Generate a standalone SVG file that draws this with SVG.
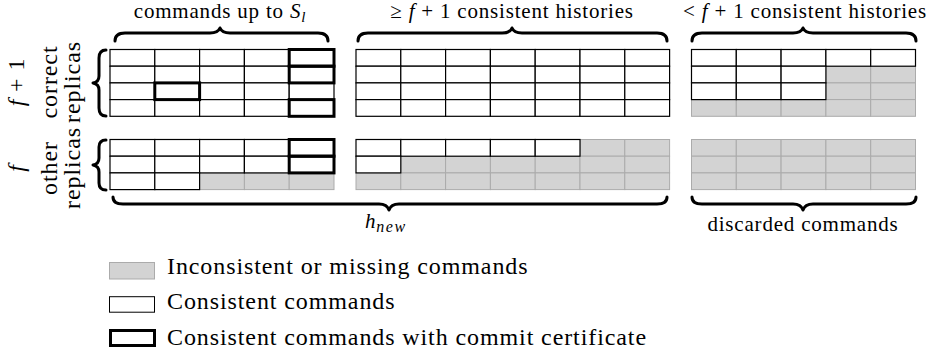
<svg xmlns="http://www.w3.org/2000/svg" width="929" height="351" viewBox="0 0 929 351">
<style>
.g{fill:#d3d3d3;stroke:#ababab;stroke-width:1}
.w{fill:#fff;stroke:#000;stroke-width:1.2}
.k{fill:none;stroke:#000;stroke-width:3}
.br{fill:none;stroke:#000;stroke-width:3;stroke-linecap:round;stroke-linejoin:round}
text{font-family:"Liberation Serif","Times New Roman",serif;fill:#000}
.lab{font-size:21px;letter-spacing:0.8px}
.side{font-size:24px;letter-spacing:0.9px;text-anchor:middle}
.leg{font-size:24px;letter-spacing:0.9px}
</style>
<rect width="929" height="351" fill="#fff"/>

<g id="grid-correct-prefix">
<rect class="w" x="110" y="49.5" width="44.8" height="16.7"/><rect class="w" x="154.8" y="49.5" width="44.8" height="16.7"/><rect class="w" x="199.6" y="49.5" width="44.8" height="16.7"/><rect class="w" x="244.4" y="49.5" width="44.8" height="16.7"/><rect class="w" x="289.2" y="49.5" width="44.8" height="16.7"/>
<rect class="w" x="110" y="66.2" width="44.8" height="16.7"/><rect class="w" x="154.8" y="66.2" width="44.8" height="16.7"/><rect class="w" x="199.6" y="66.2" width="44.8" height="16.7"/><rect class="w" x="244.4" y="66.2" width="44.8" height="16.7"/><rect class="w" x="289.2" y="66.2" width="44.8" height="16.7"/>
<rect class="w" x="110" y="82.9" width="44.8" height="16.7"/><rect class="w" x="154.8" y="82.9" width="44.8" height="16.7"/><rect class="w" x="199.6" y="82.9" width="44.8" height="16.7"/><rect class="w" x="244.4" y="82.9" width="44.8" height="16.7"/><rect class="w" x="289.2" y="82.9" width="44.8" height="16.7"/>
<rect class="w" x="110" y="99.6" width="44.8" height="16.7"/><rect class="w" x="154.8" y="99.6" width="44.8" height="16.7"/><rect class="w" x="199.6" y="99.6" width="44.8" height="16.7"/><rect class="w" x="244.4" y="99.6" width="44.8" height="16.7"/><rect class="w" x="289.2" y="99.6" width="44.8" height="16.7"/>
<rect class="k" x="289.2" y="49.5" width="44.8" height="16.7"/><rect class="k" x="289.2" y="66.2" width="44.8" height="16.7"/><rect class="k" x="289.2" y="99.6" width="44.8" height="16.7"/><rect class="k" x="154.8" y="82.9" width="44.8" height="16.7"/>
</g>

<g id="grid-correct-consistent">
<rect class="w" x="356" y="49.5" width="44.8" height="16.7"/><rect class="w" x="400.8" y="49.5" width="44.8" height="16.7"/><rect class="w" x="445.6" y="49.5" width="44.8" height="16.7"/><rect class="w" x="490.4" y="49.5" width="44.8" height="16.7"/><rect class="w" x="535.2" y="49.5" width="44.8" height="16.7"/><rect class="w" x="580" y="49.5" width="44.8" height="16.7"/><rect class="w" x="624.8" y="49.5" width="44.8" height="16.7"/>
<rect class="w" x="356" y="66.2" width="44.8" height="16.7"/><rect class="w" x="400.8" y="66.2" width="44.8" height="16.7"/><rect class="w" x="445.6" y="66.2" width="44.8" height="16.7"/><rect class="w" x="490.4" y="66.2" width="44.8" height="16.7"/><rect class="w" x="535.2" y="66.2" width="44.8" height="16.7"/><rect class="w" x="580" y="66.2" width="44.8" height="16.7"/><rect class="w" x="624.8" y="66.2" width="44.8" height="16.7"/>
<rect class="w" x="356" y="82.9" width="44.8" height="16.7"/><rect class="w" x="400.8" y="82.9" width="44.8" height="16.7"/><rect class="w" x="445.6" y="82.9" width="44.8" height="16.7"/><rect class="w" x="490.4" y="82.9" width="44.8" height="16.7"/><rect class="w" x="535.2" y="82.9" width="44.8" height="16.7"/><rect class="w" x="580" y="82.9" width="44.8" height="16.7"/><rect class="w" x="624.8" y="82.9" width="44.8" height="16.7"/>
<rect class="w" x="356" y="99.6" width="44.8" height="16.7"/><rect class="w" x="400.8" y="99.6" width="44.8" height="16.7"/><rect class="w" x="445.6" y="99.6" width="44.8" height="16.7"/><rect class="w" x="490.4" y="99.6" width="44.8" height="16.7"/><rect class="w" x="535.2" y="99.6" width="44.8" height="16.7"/><rect class="w" x="580" y="99.6" width="44.8" height="16.7"/><rect class="w" x="624.8" y="99.6" width="44.8" height="16.7"/>
</g>

<g id="grid-correct-discarded">
<rect class="g" x="825.9" y="66.2" width="44.8" height="16.7"/><rect class="g" x="870.7" y="66.2" width="44.8" height="16.7"/>
<rect class="g" x="825.9" y="82.9" width="44.8" height="16.7"/><rect class="g" x="870.7" y="82.9" width="44.8" height="16.7"/>
<rect class="g" x="691.5" y="99.6" width="44.8" height="16.7"/><rect class="g" x="736.3" y="99.6" width="44.8" height="16.7"/><rect class="g" x="781.1" y="99.6" width="44.8" height="16.7"/><rect class="g" x="825.9" y="99.6" width="44.8" height="16.7"/><rect class="g" x="870.7" y="99.6" width="44.8" height="16.7"/>
<rect class="w" x="691.5" y="49.5" width="44.8" height="16.7"/><rect class="w" x="736.3" y="49.5" width="44.8" height="16.7"/><rect class="w" x="781.1" y="49.5" width="44.8" height="16.7"/><rect class="w" x="825.9" y="49.5" width="44.8" height="16.7"/><rect class="w" x="870.7" y="49.5" width="44.8" height="16.7"/>
<rect class="w" x="691.5" y="66.2" width="44.8" height="16.7"/><rect class="w" x="736.3" y="66.2" width="44.8" height="16.7"/><rect class="w" x="781.1" y="66.2" width="44.8" height="16.7"/>
<rect class="w" x="691.5" y="82.9" width="44.8" height="16.7"/><rect class="w" x="736.3" y="82.9" width="44.8" height="16.7"/><rect class="w" x="781.1" y="82.9" width="44.8" height="16.7"/>
</g>

<g id="grid-other-prefix">
<rect class="g" x="199.6" y="172.9" width="44.8" height="16.7"/><rect class="g" x="244.4" y="172.9" width="44.8" height="16.7"/><rect class="g" x="289.2" y="172.9" width="44.8" height="16.7"/>
<rect class="w" x="110" y="139.5" width="44.8" height="16.7"/><rect class="w" x="154.8" y="139.5" width="44.8" height="16.7"/><rect class="w" x="199.6" y="139.5" width="44.8" height="16.7"/><rect class="w" x="244.4" y="139.5" width="44.8" height="16.7"/><rect class="w" x="289.2" y="139.5" width="44.8" height="16.7"/>
<rect class="w" x="110" y="156.2" width="44.8" height="16.7"/><rect class="w" x="154.8" y="156.2" width="44.8" height="16.7"/><rect class="w" x="199.6" y="156.2" width="44.8" height="16.7"/><rect class="w" x="244.4" y="156.2" width="44.8" height="16.7"/><rect class="w" x="289.2" y="156.2" width="44.8" height="16.7"/>
<rect class="w" x="110" y="172.9" width="44.8" height="16.7"/><rect class="w" x="154.8" y="172.9" width="44.8" height="16.7"/>
<rect class="k" x="289.2" y="139.5" width="44.8" height="16.7"/><rect class="k" x="289.2" y="156.2" width="44.8" height="16.7"/>
</g>

<g id="grid-other-consistent">
<rect class="g" x="580" y="139.5" width="44.8" height="16.7"/><rect class="g" x="624.8" y="139.5" width="44.8" height="16.7"/>
<rect class="g" x="400.8" y="156.2" width="44.8" height="16.7"/><rect class="g" x="445.6" y="156.2" width="44.8" height="16.7"/><rect class="g" x="490.4" y="156.2" width="44.8" height="16.7"/><rect class="g" x="535.2" y="156.2" width="44.8" height="16.7"/><rect class="g" x="580" y="156.2" width="44.8" height="16.7"/><rect class="g" x="624.8" y="156.2" width="44.8" height="16.7"/>
<rect class="g" x="356" y="172.9" width="44.8" height="16.7"/><rect class="g" x="400.8" y="172.9" width="44.8" height="16.7"/><rect class="g" x="445.6" y="172.9" width="44.8" height="16.7"/><rect class="g" x="490.4" y="172.9" width="44.8" height="16.7"/><rect class="g" x="535.2" y="172.9" width="44.8" height="16.7"/><rect class="g" x="580" y="172.9" width="44.8" height="16.7"/><rect class="g" x="624.8" y="172.9" width="44.8" height="16.7"/>
<rect class="w" x="356" y="139.5" width="44.8" height="16.7"/><rect class="w" x="400.8" y="139.5" width="44.8" height="16.7"/><rect class="w" x="445.6" y="139.5" width="44.8" height="16.7"/><rect class="w" x="490.4" y="139.5" width="44.8" height="16.7"/><rect class="w" x="535.2" y="139.5" width="44.8" height="16.7"/>
<rect class="w" x="356" y="156.2" width="44.8" height="16.7"/>
</g>

<g id="grid-other-discarded">
<rect class="g" x="691.5" y="139.5" width="44.8" height="16.7"/><rect class="g" x="736.3" y="139.5" width="44.8" height="16.7"/><rect class="g" x="781.1" y="139.5" width="44.8" height="16.7"/><rect class="g" x="825.9" y="139.5" width="44.8" height="16.7"/><rect class="g" x="870.7" y="139.5" width="44.8" height="16.7"/>
<rect class="g" x="691.5" y="156.2" width="44.8" height="16.7"/><rect class="g" x="736.3" y="156.2" width="44.8" height="16.7"/><rect class="g" x="781.1" y="156.2" width="44.8" height="16.7"/><rect class="g" x="825.9" y="156.2" width="44.8" height="16.7"/><rect class="g" x="870.7" y="156.2" width="44.8" height="16.7"/>
<rect class="g" x="691.5" y="172.9" width="44.8" height="16.7"/><rect class="g" x="736.3" y="172.9" width="44.8" height="16.7"/><rect class="g" x="781.1" y="172.9" width="44.8" height="16.7"/><rect class="g" x="825.9" y="172.9" width="44.8" height="16.7"/><rect class="g" x="870.7" y="172.9" width="44.8" height="16.7"/>
</g>

<g id="braces">
<path class="br" d="M115,41 Q115,33 125,33 L210,33 Q218,33 220,28 Q222,33 230,33 L318,33 Q328,33 328,41"/>
<path class="br" d="M358,41 Q358,33 368,33 L502,33 Q510,33 512,28 Q514,33 522,33 L657,33 Q667,33 667,41"/>
<path class="br" d="M692,41 Q692,33 702,33 L793,33 Q801,33 803,28 Q805,33 813,33 L906,33 Q916,33 916,41"/>
<path class="br" d="M113,197 Q113,204 123,204 L379,204 Q387,204 389,210 Q391,204 399,204 L657,204 Q667,204 667,197"/>
<path class="br" d="M692,197 Q692,204 702,204 L793,204 Q801,204 803,210 Q805,204 813,204 L906,204 Q916,204 916,197"/>
<path class="br" d="M106,50 Q99,50 99,58 L99,76 Q99,82 93,83 Q99,84 99,90 L99,108 Q99,116 106,116"/>
<path class="br" d="M106,140 Q99,140 99,147 L99,158 Q99,164 93,165 Q99,166 99,172 L99,183 Q99,190 106,190"/>
</g>

<g id="labels">
<text class="lab" x="220" y="18" text-anchor="middle">commands up to <tspan font-style="italic">S</tspan><tspan font-style="italic" font-size="15" dy="4">l</tspan></text>
<text class="lab" x="512" y="18" text-anchor="middle">≥ <tspan font-style="italic">f</tspan> + 1 consistent histories</text>
<text class="lab" x="805" y="18" text-anchor="middle" letter-spacing="1.2">&lt; <tspan font-style="italic">f</tspan> + 1 consistent histories</text>
<text class="lab" x="365" y="228"><tspan font-style="italic">h</tspan><tspan font-style="italic" font-size="16" dy="4" letter-spacing="1.5">new</tspan></text>
<text class="lab" x="803" y="231" text-anchor="middle">discarded commands</text>
<g id="label-correct" transform="translate(0,82) rotate(-90)">
<text class="side" x="0" y="24"><tspan font-style="italic">f</tspan> + 1</text>
<text class="side" x="0" y="57">correct</text>
<text class="side" x="0" y="80">replicas</text>
</g>
<g id="label-other" transform="translate(0,168) rotate(-90)">
<text class="side" x="0" y="24" font-style="italic">f</text>
<text class="side" x="0" y="57">other</text>
<text class="side" x="0" y="80">replicas</text>
</g>
</g>

<g id="legend">
<rect class="g" x="109.5" y="262.5" width="45" height="16.5"/>
<rect x="109.5" y="296.7" width="45" height="15.5" fill="#fff" stroke="#000" stroke-width="1"/>
<rect class="k" x="110.5" y="330.5" width="44" height="15"/>
<text class="leg" x="167" y="274">Inconsistent or missing commands</text>
<text class="leg" x="167" y="309">Consistent commands</text>
<text class="leg" x="167" y="345">Consistent commands with commit certificate</text>
</g>
</svg>
